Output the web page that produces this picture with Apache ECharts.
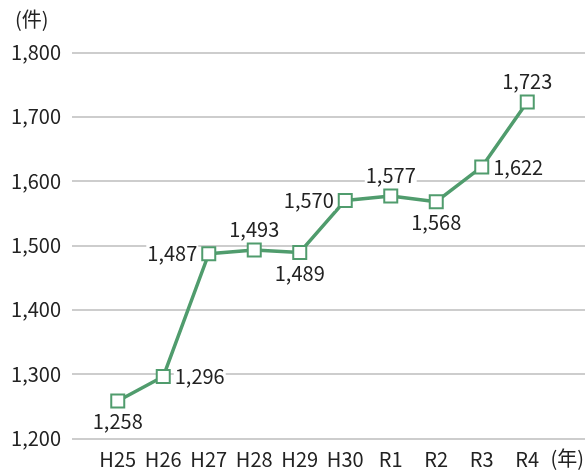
<!DOCTYPE html>
<html>
<head>
<meta charset="utf-8">
<script src="https://cdn.jsdelivr.net/npm/echarts@6/dist/echarts.min.js"></script>
<style>
  html, body { margin: 0; padding: 0; background: #fff; }
  #chart { width: 585px; height: 470px; }
</style>
</head>
<body>
<div id="chart"></div>
<script>
// 年度ごとの件数
const years = ['H25', 'H26', 'H27', 'H28', 'H29', 'H30', 'R1', 'R2', 'R3', 'R4'];
const counts = [1258, 1296, 1487, 1493, 1489, 1570, 1577, 1568, 1622, 1723];
// 各ラベルの表示位置
const labelPos = ['bottom', 'right', 'left', 'top', 'bottom', 'left', 'top', 'bottom', 'right', 'top'];
const yMin = 1200, yMax = 1800, yStep = 100;

const FONT = '"Noto Sans CJK JP", "Noto Sans", sans-serif';
const TEXT = '#222222';
const GREEN = '#509c6d';
const GRID = '#bdbdbd';
const FS = 20;

const chart = echarts.init(document.getElementById('chart'), null, { renderer: 'canvas' });

const fmt = v => v.toLocaleString('en-US');

chart.setOption({
  animation: false,
  backgroundColor: '#fff',
  textStyle: { fontFamily: FONT },
  grid: [
    { left: 72, right: 0, top: 52.5, bottom: 31.7 },
    { left: 95, right: 35, top: 52.5, bottom: 31.7 }
  ],
  xAxis: [
    { type: 'value', gridIndex: 0, show: false, min: 0, max: 1 },
    {
      type: 'category', gridIndex: 1, data: years, boundaryGap: true,
      axisLine: { show: false }, axisTick: { show: false },
      axisLabel: { color: TEXT, fontSize: FS, fontFamily: FONT, margin: 11, interval: 0 }
    }
  ],
  yAxis: [
    {
      type: 'value', gridIndex: 0, min: yMin, max: yMax, interval: yStep,
      axisLine: { show: false }, axisTick: { show: false },
      axisLabel: { color: TEXT, fontSize: FS, fontFamily: FONT, margin: 11, formatter: fmt },
      splitLine: { lineStyle: { color: GRID, width: 1.5 } }
    },
    {
      type: 'value', gridIndex: 1, min: yMin, max: yMax, interval: yStep,
      show: false, splitLine: { show: false }
    }
  ],
  graphic: [
    { type: 'text', left: 15, top: 9, style: { text: '(件)', fill: TEXT, font: FS + 'px ' + FONT } },
    { type: 'text', right: 1, top: 448, style: { text: '(年)', fill: TEXT, font: FS + 'px ' + FONT } }
  ],
  series: [{
    type: 'line',
    xAxisIndex: 1, yAxisIndex: 1,
    data: counts.map((v, i) => ({
      value: v,
      label: { position: labelPos[i] }
    })),
    lineStyle: { color: GREEN, width: 3.5 },
    itemStyle: { color: '#fff', borderColor: GREEN, borderWidth: 2 },
    symbol: 'rect',
    symbolSize: 13,
    label: {
      show: true,
      formatter: p => fmt(p.value),
      color: TEXT,
      fontSize: FS,
      fontFamily: FONT,
      distance: 3,
      backgroundColor: '#fff',
      padding: [0, 1]
    },
    z: 3
  }]
});
</script>
</body>
</html>
